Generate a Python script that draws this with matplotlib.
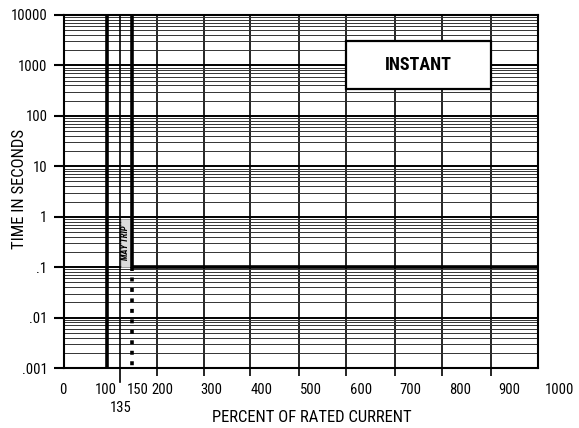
import numpy as np
import matplotlib
matplotlib.use("Agg")
import matplotlib.pyplot as plt
from matplotlib.patches import Rectangle
from matplotlib.ticker import LogLocator, NullFormatter
import matplotlib.transforms as mtransforms

plt.rcParams['font.family'] = ['Roboto Condensed', 'DejaVu Sans']

# axis values
y_ticks = [0.001, 0.01, 0.1, 1, 10, 100, 1000, 10000]
y_labels = ['.001', '.01', '.1', '1', '10', '100', '1000', '10000']
x_grid = [200, 300, 400, 500, 600, 700, 800, 900]
x_label_vals = [0, 150, 200, 300, 400, 500, 600, 700, 800, 900, 1000]

# the printed grid is not evenly spaced: where each value sits across the plot width
scale_vals = [0, 100, 135, 150, 200, 300, 400, 500, 600, 700, 800, 900, 1000]
scale_pos = [0, 43, 56, 68, 93, 140, 186, 235, 282, 331, 378, 427, 474]

# trip curve
pickup = 100
may_trip = 135
trip_x = [150, 150, 1000]
trip_y = [10000, 0.1, 0.1]
below_x = [150, 150]
below_y = [0.1, 0.001]


def fwd(x):
    return np.interp(x, scale_vals, scale_pos)


def inv(p):
    return np.interp(p, scale_pos, scale_vals)


fig = plt.figure(figsize=(5.79, 4.28), dpi=100)
ax = fig.add_axes([64 / 579, 60 / 428, 474 / 579, 353 / 428])
ax.set_xscale('function', functions=(fwd, inv))
ax.set_yscale('log')
ax.set_xlim(0, 1000)
ax.set_ylim(0.001, 10000)
ax.set_axisbelow(True)

ax.set_yticks(y_ticks, y_labels)
ax.yaxis.set_minor_locator(LogLocator(base=10, subs=np.arange(2, 10), numticks=100))
ax.yaxis.set_minor_formatter(NullFormatter())
ax.set_xticks(x_grid)
ax.set_xticks([], minor=True)
ax.tick_params(axis='x', which='major', length=6, width=1.2, labelbottom=False)
ax.tick_params(axis='y', which='major', length=7, width=1.5, pad=5, labelsize=10.5)
ax.tick_params(axis='y', which='minor', length=0)

ax.grid(which='major', axis='y', color='black', lw=1.4)
ax.grid(which='minor', axis='y', color='#333333', lw=0.7)
ax.grid(which='major', axis='x', color='black', lw=1.2)
for s in ax.spines.values():
    s.set_linewidth(1.5)

# trip lines
ax.axvline(pickup, color='black', lw=2.6)
bt = mtransforms.blended_transform_factory(ax.transData, ax.transAxes)
ax.plot([may_trip, may_trip], [1, -0.04], color='black', lw=1.2, transform=bt, clip_on=False)
ax.plot(trip_x, trip_y, color='black', lw=2.6, solid_capstyle='butt')
ax.plot(below_x, below_y, color='black', lw=2.6, ls=(0, (1.1, 1.8)))

# may trip band
ax.add_patch(Rectangle((136, 0.1), 12.5, 0.8, facecolor='#dcdcdc', edgecolor='#b0b0b0', lw=0.5, zorder=1.5))
ax.text(142.3, 0.3, 'MAY TRIP', rotation=90, ha='center', va='center',
        fontsize=6.3, fontweight='bold', fontstyle='italic', zorder=3)

# instant box
ax.add_patch(Rectangle((600, 340), 300, 2660, facecolor='white', edgecolor='black', lw=1.6, zorder=3))
ax.text(750, 1010, 'INSTANT', ha='center', va='center', fontsize=13, fontweight='bold', zorder=4)

# x labels (printed slightly off the grid lines)
lab = fig.add_axes([63 / 579, 60 / 428, 496 / 579, 353 / 428])
lab.set_xlim(0, 1000)
lab.set_xticks(x_label_vals, [str(v) for v in x_label_vals])
lab.set_yticks([])
lab.tick_params(axis='x', length=0, pad=11, labelsize=10.5)
lab.patch.set_visible(False)
for s in lab.spines.values():
    s.set_visible(False)

ax.text(pickup - 2, -0.042, '100', transform=bt, ha='center', va='top', fontsize=10.5)
ax.text(may_trip + 1, -0.093, '135', transform=bt, ha='center', va='top', fontsize=10.5)

fig.text(312 / 579, 1 - 417 / 428, 'PERCENT OF RATED CURRENT', ha='center', va='center', fontsize=12)
fig.text(19 / 579, 1 - 189 / 428, 'TIME IN SECONDS', ha='center', va='center', rotation=90, fontsize=12)

fig.savefig('out.png', dpi=100)
